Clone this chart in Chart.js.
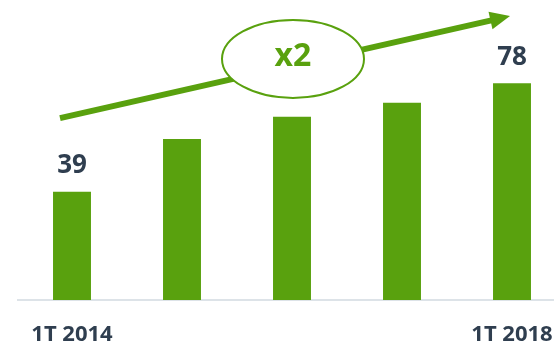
<!DOCTYPE html>
<html>
<head>
<meta charset="utf-8">
<script src="https://cdn.jsdelivr.net/npm/chart.js@4/dist/chart.umd.min.js"></script>
<style>
    html, body { margin: 0; padding: 0; background: #ffffff; }
    #wrap { width: 554px; height: 343px; }
</style>
</head>
<body>
<div id="wrap"><canvas id="myBar"></canvas></div>
<script>
let period_labels = ["1T 2014", "", "", "", "1T 2018"];
let bar_values = [39, 58, 66, 71, 78];
let shown_values = ["39", "", "", "", "78"];
let growth_label = "x2";

let green = "#59a10e";
let text_dark = "#2f3e4f";

// value labels above first and last bar, base line, growth arrow with ellipse
let extras = {
    id: "extras",
    beforeDatasetsDraw(chart) {
        let ctx = chart.ctx;
        let x = chart.scales.x;
        let y = chart.scales.y;
        let step = x.getPixelForValue(1) - x.getPixelForValue(0);
        ctx.save();
        ctx.strokeStyle = "#dde3e8";
        ctx.lineWidth = 2;
        ctx.beginPath();
        ctx.moveTo(x.getPixelForValue(0) - step / 2, y.getPixelForValue(0));
        ctx.lineTo(chart.width, y.getPixelForValue(0));
        ctx.stroke();
        ctx.restore();
    },
    afterDatasetsDraw(chart) {
        let ctx = chart.ctx;
        let x = chart.scales.x;
        let y = chart.scales.y;
        let bars = chart.getDatasetMeta(0).data;

        ctx.save();
        ctx.fillStyle = text_dark;
        ctx.font = "bold 26px 'Open Sans'";
        ctx.textAlign = "center";
        ctx.textBaseline = "middle";
        bars.forEach((b, i) => {
            if (shown_values[i]) ctx.fillText(shown_values[i], b.x, b.y - 26);
        });

        // arrow
        let x0 = x.getPixelForValue(0) - 12, y0 = y.getPixelForValue(65.5);
        let x1 = x.getPixelForValue(4) - 2, y1 = y.getPixelForValue(102.2);
        let ang = Math.atan2(y1 - y0, x1 - x0);
        let headLen = 20, headW = 9;
        let bx = x1 - headLen * Math.cos(ang), by = y1 - headLen * Math.sin(ang);
        ctx.strokeStyle = green;
        ctx.lineWidth = 6;
        ctx.beginPath();
        ctx.moveTo(x0, y0);
        ctx.lineTo(bx + 2 * Math.cos(ang), by + 2 * Math.sin(ang));
        ctx.stroke();
        ctx.fillStyle = green;
        ctx.beginPath();
        ctx.moveTo(x1, y1);
        ctx.lineTo(bx + headW * Math.sin(ang), by - headW * Math.cos(ang));
        ctx.lineTo(bx - headW * Math.sin(ang), by + headW * Math.cos(ang));
        ctx.closePath();
        ctx.fill();

        // ellipse with label
        let cx = x.getPixelForValue(2) + 1, cy = y.getPixelForValue(86.8);
        ctx.beginPath();
        ctx.ellipse(cx, cy, 71, 39, 0, 0, Math.PI * 2);
        ctx.fillStyle = "#ffffff";
        ctx.fill();
        ctx.lineWidth = 2;
        ctx.strokeStyle = green;
        ctx.stroke();
        ctx.fillStyle = green;
        ctx.font = "bold 32px 'Open Sans'";
        ctx.fillText(growth_label, cx, cy - 2);
        ctx.restore();
    }
};

new Chart(document.getElementById("myBar").getContext("2d"), {
    type: "bar",
    data: {
        labels: period_labels,
        datasets: [{
            data: bar_values,
            backgroundColor: green,
            barPercentage: 0.345,
            categoryPercentage: 1,
            clip: false
        }]
    },
    options: {
        responsive: true,
        maintainAspectRatio: false,
        animation: false,
        layout: { padding: { left: 72, right: 42, top: 0, bottom: 0 } },
        plugins: {
            legend: { display: false },
            tooltip: { enabled: false }
        },
        scales: {
            x: {
                offset: false,
                grid: { display: false, drawTicks: false },
                border: { display: false },
                ticks: {
                    color: text_dark,
                    font: { family: "'Open Sans'", size: 22, weight: "bold" },
                    padding: 22,
                    maxRotation: 0,
                    autoSkip: false
                },
                afterFit: scale => {
                    scale.height = 43;
                    scale.paddingLeft = 0;
                    scale.paddingRight = 0;
                }
            },
            y: {
                display: false,
                min: 0,
                max: 108
            }
        }
    },
    plugins: [extras]
});
</script>
</body>
</html>
